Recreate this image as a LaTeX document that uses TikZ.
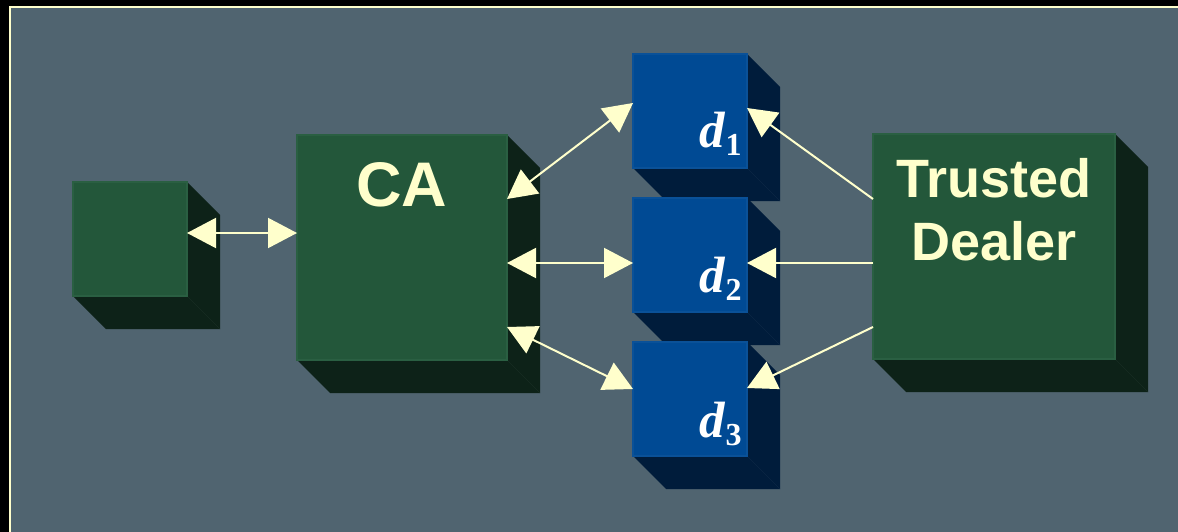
\documentclass[tikz,border=0pt]{standalone}
\usepackage{fontspec}
\setmainfont{Liberation Serif}
\setsansfont{Liberation Sans}
\usetikzlibrary{arrows.meta,backgrounds,calc}

\definecolor{slate}{HTML}{506470}
\definecolor{cream}{HTML}{FFFFCC}
\definecolor{gfront}{HTML}{23573A}
\definecolor{gedge}{HTML}{2A5F42}
\definecolor{gside}{HTML}{0D2218}
\definecolor{bfront}{HTML}{004A94}
\definecolor{bedge}{HTML}{0A5198}
\definecolor{bside}{HTML}{001C3B}

\tikzset{
  face/.style={rectangle, inner sep=0pt, outer sep=0pt, line width=1.5pt},
  greenbox/.style={face, fill=gfront, draw=gedge},
  bluebox/.style={face, fill=bfront, draw=bedge,
    minimum width=114pt, minimum height=114pt},
  oneway/.style={draw=cream, line width=2pt, -{Triangle[length=29pt, width=30pt]}},
  twoway/.style={draw=cream, line width=2pt,
    {Triangle[length=29pt, width=30pt]}-{Triangle[length=29pt, width=30pt]}},
  boxtitle/.style={text=cream, font=\sffamily\bfseries, inner sep=0pt, anchor=base},
  dlabel/.style={text=white, inner sep=0pt, anchor=base west,
    font=\fontsize{51}{51}\selectfont\bfseries\itshape},
}

\newcommand{\subidx}[1]{\kern1pt\raisebox{-8pt}{\fontsize{32}{32}\selectfont\normalfont\bfseries #1}}

\begin{document}
\begin{tikzpicture}[x=1pt, y=-1pt]
  \useasboundingbox (0,0) rectangle (1178,532);

  % front faces
  \node[greenbox, minimum width=114pt, minimum height=114pt] (small) at (130,239) {};
  \node[greenbox, minimum width=210pt, minimum height=225pt] (ca) at (402,247.5) {};
  \node[bluebox] (d1) at (690,111) {};
  \node[bluebox] (d2) at (690,255) {};
  \node[bluebox] (d3) at (690,399) {};
  \node[greenbox, minimum width=242pt, minimum height=225pt] (td) at (994,246.5) {};

  % slide background and extruded sides of the blocks
  \begin{scope}[on background layer]
    \fill[black] (0,0) rectangle (1178,532);
    \filldraw[fill=slate, draw=cream, line width=2pt] (10,7) rectangle (1190,545);
    \foreach \n/\c in {small/gside, ca/gside, td/gside, d1/bside, d2/bside, d3/bside}{
      \fill[\c] (\n.north east) -- ($(\n.north east)+(33,33)$)
        -- ($(\n.south east)+(33,33)$) -- ($(\n.south west)+(33,33)$)
        -- (\n.south west) -- cycle;
      \draw[\c!85!white, line width=0.4pt, opacity=0.3] (\n.south east) -- ($(\n.south east)+(33,33)$);
    }
  \end{scope}

  % labels
  \node[boxtitle, font=\fontsize{63}{63}\selectfont\sffamily\bfseries] (calabel) at (402,206) {CA};
  \node[boxtitle, align=center, font=\fontsize{54}{63}\selectfont\sffamily\bfseries]
    (tdlabel) at (994,260) {Trusted\\Dealer};
  \node[dlabel] (d1label) at (699,148) {d\subidx{1}};
  \node[dlabel] (d2label) at (699,292) {d\subidx{2}};
  \node[dlabel] (d3label) at (699,437) {d\subidx{3}};

  % connectors
  \coordinate (s1) at ([yshift=6pt]small.east);
  \coordinate (s2) at ([yshift=-8pt]d2.west);
  \coordinate (s3) at ([yshift=-8pt]d2.east);
  \draw[twoway] (s1) -- (s1 -| ca.west);
  \draw[twoway] ([yshift=48.5pt]ca.east) -- ([yshift=8pt]d1.west);
  \draw[twoway] (s2 -| ca.east) -- (s2);
  \draw[twoway] ([yshift=-79.5pt]ca.east) -- ([yshift=10pt]d3.west);

  \draw[oneway] ([yshift=47.5pt]td.west) -- ([yshift=3pt]d1.east);
  \draw[oneway] (s3 -| td.west) -- (s3);
  \draw[oneway] ([yshift=-80.5pt]td.west) -- ([yshift=11pt]d3.east);
\end{tikzpicture}
\end{document}
